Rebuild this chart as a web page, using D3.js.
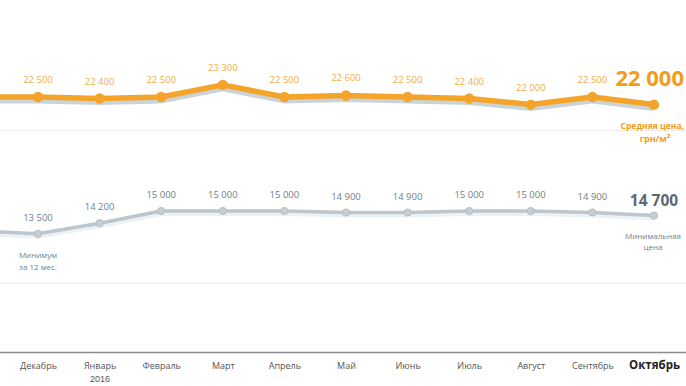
<!DOCTYPE html>
<html><head><meta charset="utf-8">
<script src="https://cdn.jsdelivr.net/npm/d3@7/dist/d3.min.js"></script>
<style>body{margin:0;background:#fff;}svg{display:block;font-family:"Open Sans","Noto Sans",sans-serif;}</style>
</head><body><svg id="c" width="686" height="386"></svg>
<script>
const months = ["", "Декабрь", "Январь", "Февраль", "Март", "Апрель", "Май", "Июнь", "Июль", "Август", "Сентябрь", "Октябрь"];
const monthSub = ["", "", "2016", "", "", "", "", "", "", "", "", ""];
const avgPrice = [22500, 22500, 22400, 22500, 23300, 22500, 22600, 22500, 22400, 22000, 22500, 22000];
const minPrice = [13700, 13500, 14200, 15000, 15000, 15000, 14900, 14900, 15000, 15000, 14900, 14700];
const gridValues = [20300, 10250];

const svg = d3.select("#c");
const x = d3.scaleLinear().domain([0, 11]).range([-23.6, 654]);
const y = d3.scaleLinear().domain([15000, 22500]).range([211, 97]);
const idx = d3.range(months.length);
const fmt = v => d3.format(",")(v).replace(",", " ");

// grid
svg.selectAll(".grid").data(gridValues).join("line")
  .attr("x1", 0).attr("x2", 686).attr("y1", d => y(d)).attr("y2", d => y(d))
  .attr("stroke", "#efefef").attr("stroke-width", 1.5);

// axis
const axisY = 352;
const ax = svg.append("g").attr("transform", `translate(0,${axisY})`)
  .call(d3.axisBottom(x).tickValues(idx.slice(1)).tickSize(0).tickFormat(i => months[i]));
ax.select(".domain").attr("d", "M0,0.5H686").attr("stroke", "#8a8a8a").attr("stroke-width", 1.5);
ax.selectAll(".tick text").attr("dy", 0).attr("y", 17)
  .attr("font-family", "'Open Sans','Noto Sans',sans-serif")
  .attr("font-weight", i => i === 11 ? "bold" : "normal")
  .style("font-size", i => i === 11 ? "11.5px" : "9px")
  .attr("fill", i => i === 11 ? "#222" : "#555");
ax.selectAll(".tick").filter(i => monthSub[i]).append("text")
  .attr("y", 30).attr("text-anchor", "middle").attr("font-size", 9).attr("fill", "#555")
  .text(i => monthSub[i]);

const line = arr => d3.line().x(i => x(i)).y(i => y(arr[i]))(idx);

// min price line
svg.append("path").attr("d", line(minPrice)).attr("transform", "translate(0,3)")
  .attr("fill", "none").attr("stroke", "#eef1f3").attr("stroke-width", 4);
svg.append("path").attr("d", line(minPrice))
  .attr("fill", "none").attr("stroke", "#bcc6cc").attr("stroke-width", 3.5).attr("stroke-linejoin", "round");
svg.selectAll(".mp").data(idx.slice(1)).join("circle")
  .attr("cx", i => x(i)).attr("cy", i => y(minPrice[i])).attr("r", 3.6)
  .attr("fill", "#c5ced3").attr("stroke", "#b4bfc6").attr("stroke-width", 1);
svg.selectAll(".ml").data(idx.slice(1, 11)).join("text")
  .attr("x", i => x(i)).attr("y", i => y(minPrice[i]) - 13)
  .attr("text-anchor", "middle").attr("font-size", 9.5).attr("fill", "#6f7f89")
  .text(i => fmt(minPrice[i]));

// avg price line
svg.append("path").attr("d", line(avgPrice)).attr("transform", "translate(0,4)")
  .attr("fill", "none").attr("stroke", "#c9d3d9").attr("stroke-width", 5);
svg.append("path").attr("d", line(avgPrice))
  .attr("fill", "none").attr("stroke", "#f5a42a").attr("stroke-width", 5.5).attr("stroke-linejoin", "round");
svg.selectAll(".ap").data(idx.slice(1)).join("circle")
  .attr("cx", i => x(i)).attr("cy", i => y(avgPrice[i])).attr("r", 5.2)
  .attr("fill", "#f5a42a");
svg.selectAll(".al").data(idx.slice(1, 11)).join("text")
  .attr("x", i => x(i)).attr("y", i => y(avgPrice[i]) - 14)
  .attr("text-anchor", "middle").attr("font-size", 9.5).attr("fill", "#f0ad4a")
  .text(i => fmt(avgPrice[i]));

// highlights
const last = 11;
svg.append("text").attr("x", 684).attr("y", y(avgPrice[last]) - 19)
  .attr("text-anchor", "end")
  .attr("font-size", 22).attr("font-weight", "bold").attr("fill", "#f39c1a")
  .text(fmt(avgPrice[last]));
svg.append("text").attr("x", 684).attr("y", y(avgPrice[last]) + 24)
  .attr("text-anchor", "end").attr("font-size", 8.5).attr("font-weight", "bold").attr("fill", "#f39c1a")
  .text("Средняя цена,");
svg.append("text").attr("x", x(last) + 1).attr("y", y(avgPrice[last]) + 37)
  .attr("text-anchor", "middle").attr("font-size", 9).attr("font-weight", "bold").attr("fill", "#f39c1a")
  .text("грн/м²");
svg.append("text").attr("x", x(last)).attr("y", y(minPrice[last]) - 10)
  .attr("text-anchor", "middle").attr("font-size", 15.5).attr("font-weight", "bold").attr("fill", "#5d6a73")
  .text(fmt(minPrice[last]));
svg.append("text").attr("x", x(last) - 1).attr("y", y(minPrice[last]) + 23)
  .attr("text-anchor", "middle").attr("font-size", 8).attr("fill", "#6f7f89").text("Минимальная");
svg.append("text").attr("x", x(last) - 1).attr("y", y(minPrice[last]) + 34)
  .attr("text-anchor", "middle").attr("font-size", 8).attr("fill", "#6f7f89").text("цена");
svg.append("text").attr("x", x(1)).attr("y", y(minPrice[1]) + 24)
  .attr("text-anchor", "middle").attr("font-size", 8).attr("fill", "#6f7f89").text("Минимум");
svg.append("text").attr("x", x(1)).attr("y", y(minPrice[1]) + 36)
  .attr("text-anchor", "middle").attr("font-size", 8).attr("fill", "#6f7f89").text("за 12 мес.");
</script></body></html>
